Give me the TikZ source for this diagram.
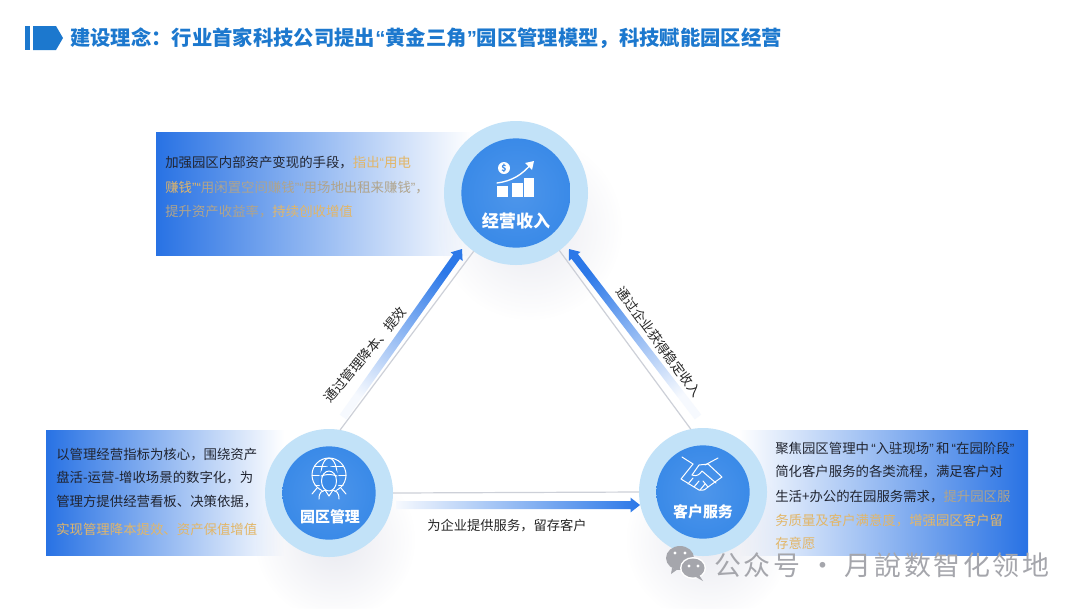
\documentclass[tikz,border=0pt]{standalone}
\usepackage{fontspec}
\setmainfont{Noto Sans CJK SC}
\newfontfamily\quotefont{Liberation Sans}
\newfontfamily\markfont[LetterSpace=10]{Noto Sans CJK SC}
\usetikzlibrary{calc,fadings}
\definecolor{titleblue}{RGB}{28,120,206}
\definecolor{flowblue}{RGB}{44,120,232}
\definecolor{flowpale}{RGB}{246,249,254}
\definecolor{boxblue}{RGB}{40,114,228}
\definecolor{boxmid}{RGB}{160,198,246}
\definecolor{ringblue}{RGB}{194,226,248}
\definecolor{coreblue}{RGB}{58,138,232}
\definecolor{goldtxt}{RGB}{226,182,104}
\definecolor{dulltxt}{RGB}{176,164,140}
\definecolor{bodytxt}{RGB}{32,36,48}
\definecolor{guidegray}{RGB}{205,208,216}
\definecolor{shadowgray}{RGB}{196,198,216}
\definecolor{markgray}{RGB}{165,166,172}
\tikzfading[name=softshadow, inner color=transparent!62, outer color=transparent!100]
\newcommand{\openq}{{\quotefont “}}
\newcommand{\closeq}{{\quotefont ”}}
% gradient band with its head: tail, tip, shading angle
\newcommand{\flowarrow}[3]{
  \coordinate (#2n) at ($(#2)!7pt!(#1)$);
  \shade[bottom color=flowpale, top color=flowblue, shading angle=#3]
    ($(#1)!3pt!90:(#2)$) -- ($(#2n)!3pt!90:(#2)$) -- ($(#2n)!5.5pt!90:(#2)$) -- (#2)
    -- ($(#2n)!5.5pt!-90:(#2)$) -- ($(#2n)!3pt!-90:(#2)$) -- ($(#1)!3pt!-90:(#2)$) -- cycle;
}
\tikzset{
  body/.style={anchor=west, inner sep=0pt, text=bodytxt, font=\fontsize{10.05pt}{11pt}\selectfont},
  ring/.style={circle, fill=ringblue, inner sep=0pt, outer sep=0pt},
  core/.style={circle, inner color=coreblue!90!white, outer color=coreblue, inner sep=0pt, outer sep=0pt},
  guide/.style={guidegray, line width=0.9pt},
  shadowblob/.style={shadowgray, path fading=softshadow},
  icon/.style={white, line width=0.75pt, line cap=round, line join=round},
  flowlabel/.style={inner sep=0pt, text=black!85, font=\fontsize{9.95pt}{11pt}\selectfont}
}

\begin{document}
\begin{tikzpicture}[x=0.75pt, y=-0.75pt]
\useasboundingbox (0,0) rectangle (1080,608);
\fill[white] (0,0) rectangle (1080,608);

% header
\fill[titleblue] (25,26) rectangle (30,50);
\fill[titleblue] (33,26) -- (56,26) -- (63,38) -- (56,50) -- (33,50) -- cycle;
\node[anchor=west, inner sep=0pt, text=titleblue, font=\fontsize{15.25pt}{16pt}\selectfont\bfseries] (title) at (70,38)
  {建设理念：行业首家科技公司提出\openq 黄金三角\closeq 园区管理模型，科技赋能园区经营};

% text panels
\shade[left color=boxblue, middle color=boxmid, right color=white] (156,132) rectangle (472,255);
\shade[left color=boxblue, middle color=boxmid, right color=white] (46,430) rectangle (284,555);
\shade[left color=white, middle color=boxmid, right color=boxblue] (738,430) rectangle (1028,555);

% soft shadows under the circles
\fill[shadowblob] (530,228) circle (92);
\fill[shadowblob] (335,540) circle (80);
\fill[shadowblob] (708,540) circle (82);

% panel text
\foreach \i/\y/\t in {
  1/163/{加强园区内部资产变现的手段，\textcolor{goldtxt}{指出\openq 用电}},
  2/188/{\textcolor{goldtxt}{赚钱\closeq\openq}\textcolor{dulltxt}{用闲置空间赚钱\closeq\openq 用场地出租来赚钱\closeq，}},
  3/212/{\textcolor{dulltxt}{提升资产收益率，}\textcolor{goldtxt}{持续创收增值}}}{
  \node[body] (top\i) at (165,\y) {\t};
}
\foreach \i/\y/\t in {
  1/455/{以管理经营指标为核心，围绕资产},
  2/478/{盘活-运营-增收场景的数字化，为},
  3/502/{管理方提供经营看板、决策依据，},
  4/529/{\textcolor{goldtxt}{实现管理降本提效、资产保值增值}}}{
  \node[body] (left\i) at (56,\y) {\t};
}
\foreach \i/\y/\t in {
  1/448/{聚焦园区管理中\,\openq 入驻现场\closeq\,和\,\openq 在园阶段\closeq},
  2/472/{简化客户服务的各类流程，满足客户对},
  3/497/{生活+办公的在园服务需求，\textcolor{dulltxt}{提升园区服}},
  4/521/{\textcolor{goldtxt}{务质量及客户满意度，增强园区客户留}},
  5/543/{\textcolor{goldtxt}{存意愿}}}{
  \node[body] (right\i) at (775,\y) {\t};
}

% circles
\node[ring, minimum size=108pt] (income) at (516,193) {};
\node[ring, minimum size=96pt] (mgmt) at (329,493) {};
\node[ring, minimum size=96pt] (service) at (703,492) {};

% connectors
\draw[guide] (mgmt.80) -- (income.234);
\draw[guide] (income.-53) -- (service.101);
\draw[guide] (mgmt.east) -- (service.west);
\coordinate (tailA) at (343,417);
\coordinate (tipA) at (462,249);
\coordinate (tailB) at (698,417);
\coordinate (tipB) at (569,249);
\coordinate (tailC) at (396,505);
\coordinate (tipC) at (640,505);
\flowarrow{tailA}{tipA}{-35}
\flowarrow{tailB}{tipB}{37}
\flowarrow{tailC}{tipC}{-90}
\node[flowlabel, rotate=50] (labelA) at (365,355) {通过管理降本、提效};
\node[flowlabel, rotate=-53.4] (labelB) at (659,342) {通过企业获得稳定收入};
\node[flowlabel] (labelC) at (507,526) {为企业提供服务，留存客户};

% circle cores and names
\node[core, minimum size=82pt] (incomecore) at (516,193) {};
\node[core, minimum size=70pt] (mgmtcore) at (329,493) {};
\node[core, minimum size=70pt] (servicecore) at (703,492) {};
\node[inner sep=0pt, text=white, font=\fontsize{12.8pt}{14pt}\selectfont\bfseries] (incomename) at (516,221) {经营收入};
\node[inner sep=0pt, text=white, font=\fontsize{11.2pt}{13pt}\selectfont\bfseries] (mgmtname) at (330,517) {园区管理};
\node[inner sep=0pt, text=white, font=\fontsize{11.2pt}{13pt}\selectfont\bfseries] (servicename) at (703,512) {客户服务};

% coin, rising arrow, bars
\foreach \xa/\xb/\yt in {497/508/186, 512/523/183, 524/534/178}{
  \fill[white] (\xa,\yt) rectangle (\xb,197);
}
\fill[white] (504,168) circle (6);
\node[inner sep=0pt, text=coreblue, font=\fontsize{6.5pt}{7pt}\selectfont\bfseries] (coinsign) at (504,168) {\$};
\draw[icon, line width=1pt] (497,183) .. controls (512,181) and (522,175) .. (532,163);
\fill[white] (534,161) -- (525,163) -- (532,170) -- cycle;

% globe and person
\draw[icon] (329,475) circle (17);
\draw[icon] (329,475) ellipse (8 and 17);
\draw[icon] (312,475) -- (346,475);
\draw[icon] (315,466) -- (343,466);
\draw[icon] (315,485) -- (343,485);
\fill[coreblue] (329,480) ellipse (10 and 14);
\draw[icon] (329,481) ellipse (7.5 and 10);
\draw[icon] (321,476) .. controls (326,474) and (332,474) .. (337,476);
\draw[icon] (319,499) .. controls (319,492) and (322,491) .. (325,490) -- (329,496) -- (333,490)
  .. controls (336,491) and (339,492) .. (339,499);
\draw[icon] (317,488) -- (312,494);
\draw[icon] (341,488) -- (346,494);

% handshake
\draw[icon] (682,457) -- (693,464);
\draw[icon] (718,458) -- (705,465);
\draw[icon] (693,464) -- (681,479) -- (699,490) .. controls (704,491) and (706,489) .. (708,487) -- (722,477) -- (708,464) -- (699,465) -- (692,475);
\draw[icon] (692,475) .. controls (697,477) and (700,474) .. (702,471) -- (716,483);
\draw[icon] (688,484) -- (693,478);
\draw[icon] (694,487) -- (699,481);
\draw[icon] (700,490) -- (705,484);
\draw[icon] (708,487) -- (703,481);

% watermark
\fill[markgray] (680,558) ellipse (14 and 12);
\fill[markgray] (672,568) -- (671,574) -- (678,569) -- cycle;
\fill[white] (693,568) ellipse (13 and 11);
\fill[markgray] (693,568) ellipse (11.5 and 9.5);
\fill[markgray] (699,575) -- (703,581) -- (696,577) -- cycle;
\foreach \ex/\ey in {675/553, 685/553, 689/566, 698/566}{
  \fill[white] (\ex,\ey) circle (1.6);
}
\node[anchor=west, inner sep=0pt, text=markgray, font=\fontsize{20.2pt}{22pt}\markfont] (mark) at (714,565)
  {公众号 · 月說数智化领地};
\end{tikzpicture}
\end{document}
